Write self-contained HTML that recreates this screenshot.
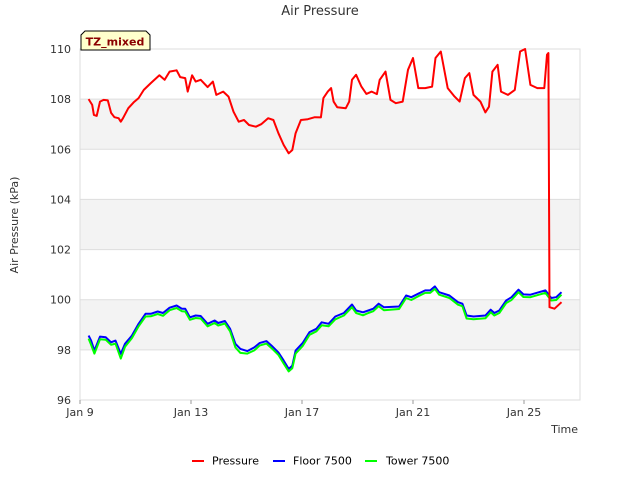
<!DOCTYPE html>
<html><head><meta charset="utf-8"><style>
body{margin:0;background:#fff;}
svg text{font-family:"DejaVu Sans","Liberation Sans",sans-serif;}
</style></head><body>
<svg id="chart" width="640" height="480" viewBox="0 0 640 480" xmlns="http://www.w3.org/2000/svg">
<text x="320" y="15" text-anchor="middle" font-size="13" fill="#333">Air Pressure</text>
<g id="bands"></g>
<g id="grid"></g>
<rect x="80" y="49" width="500" height="351" fill="none" stroke="#ddd"/>
<g id="yticks"></g>
<g id="xticks"></g>
<g id="series"></g>
<text transform="translate(18,225) rotate(-90)" text-anchor="middle" font-size="11" fill="#333">Air Pressure (kPa)</text>
<text x="578" y="433" text-anchor="end" font-size="11" fill="#333">Time</text>
<g>
<path d="M81,50 L81,35 L85,31 L146,31 L150,35 L150,50 Z" fill="#ffffcc" stroke="#000"/>
<text x="115" y="45.5" text-anchor="middle" font-size="11" font-weight="bold" fill="#8b0000">TZ_mixed</text>
</g>
<g>
<g><line x1="192" y1="461" x2="204" y2="461" stroke="#f00" stroke-width="2"/><text x="212" y="464.5" font-size="11" fill="#000">Pressure</text></g>
<g><line x1="273" y1="461" x2="285" y2="461" stroke="#00f" stroke-width="2"/><text x="293" y="464.5" font-size="11" fill="#000">Floor 7500</text></g>
<g><line x1="365" y1="461" x2="377" y2="461" stroke="#0f0" stroke-width="2"/><text x="386" y="464.5" font-size="11" fill="#000">Tower 7500</text></g>
</g>
</svg>
<script>
const yTicks=[96,98,100,102,104,106,108,110];
const xTickDays=[0,4,8,12,16];
const xTickLabels=["Jan 9","Jan 13","Jan 17","Jan 21","Jan 25"];
const pressureDays=[.31,.44,.50,.60,.72,.85,1.00,1.12,1.24,1.39,1.47,1.55,1.74,1.93,2.11,2.30,2.55,2.86,3.05,3.23,3.48,3.61,3.79,3.88,4.04,4.17,4.35,4.60,4.79,4.91,5.16,5.35,5.53,5.72,5.91,6.09,6.34,6.53,6.78,6.97,7.15,7.34,7.52,7.65,7.77,7.96,8.21,8.46,8.68,8.77,8.93,9.05,9.14,9.27,9.58,9.70,9.80,9.95,10.14,10.32,10.51,10.70,10.80,11.01,11.19,11.38,11.63,11.82,12.00,12.19,12.44,12.69,12.81,13.00,13.25,13.50,13.68,13.87,14.03,14.18,14.43,14.61,14.74,14.86,15.05,15.17,15.42,15.67,15.86,16.04,16.23,16.48,16.73,16.83,16.88,16.92,17.10,17.35];
const pressureVals=[108.0,107.77,107.37,107.33,107.9,107.97,107.95,107.45,107.28,107.24,107.1,107.24,107.64,107.87,108.04,108.37,108.64,108.95,108.77,109.1,109.15,108.88,108.84,108.3,108.95,108.7,108.77,108.48,108.7,108.17,108.3,108.1,107.5,107.1,107.17,106.97,106.9,107.0,107.24,107.17,106.64,106.17,105.84,105.97,106.64,107.17,107.2,107.28,107.27,108.04,108.3,108.44,107.9,107.68,107.64,107.9,108.77,108.97,108.5,108.21,108.3,108.2,108.77,109.1,107.97,107.84,107.9,109.17,109.64,108.44,108.44,108.5,109.64,109.9,108.44,108.1,107.9,108.84,109.04,108.17,107.9,107.47,107.7,109.1,109.37,108.3,108.17,108.37,109.9,110.0,108.57,108.44,108.44,109.77,109.84,99.7,99.64,99.9];
const sensorDays=[.31,.40,.52,.72,.93,1.12,1.28,1.47,1.62,1.87,2.11,2.36,2.55,2.80,2.99,3.23,3.48,3.67,3.79,3.96,4.17,4.35,4.60,4.85,4.98,5.22,5.41,5.60,5.78,6.03,6.28,6.47,6.72,6.90,7.15,7.34,7.52,7.65,7.77,8.02,8.27,8.52,8.71,8.96,9.20,9.51,9.80,9.95,10.20,10.39,10.57,10.76,10.95,11.50,11.75,11.94,12.19,12.44,12.62,12.79,12.94,13.31,13.62,13.78,13.93,14.18,14.61,14.80,14.93,15.11,15.36,15.55,15.80,15.98,16.23,16.54,16.77,16.98,17.16,17.35];
const floorVals=[98.57,98.37,97.97,98.53,98.5,98.3,98.37,97.84,98.24,98.57,99.04,99.44,99.44,99.53,99.47,99.68,99.77,99.64,99.64,99.3,99.37,99.35,99.04,99.17,99.07,99.15,98.84,98.24,98.04,97.95,98.1,98.27,98.35,98.17,97.9,97.57,97.24,97.37,97.97,98.27,98.71,98.84,99.1,99.04,99.33,99.47,99.81,99.57,99.5,99.57,99.64,99.84,99.7,99.73,100.17,100.1,100.24,100.37,100.37,100.53,100.3,100.17,99.9,99.84,99.37,99.33,99.37,99.6,99.47,99.57,99.97,100.1,100.4,100.21,100.2,100.3,100.37,100.07,100.1,100.3];
const towerVals=[98.45,98.2,97.85,98.42,98.4,98.2,98.25,97.65,98.12,98.47,98.94,99.33,99.34,99.43,99.36,99.58,99.67,99.54,99.53,99.2,99.27,99.25,98.94,99.07,98.97,99.05,98.74,98.1,97.88,97.85,97.98,98.17,98.25,98.07,97.8,97.45,97.14,97.27,97.85,98.15,98.6,98.74,98.98,98.94,99.22,99.37,99.7,99.47,99.38,99.47,99.54,99.74,99.58,99.63,100.07,99.99,100.14,100.27,100.27,100.43,100.2,100.07,99.8,99.74,99.25,99.22,99.26,99.5,99.37,99.47,99.87,99.99,100.3,100.11,100.1,100.2,100.27,99.97,99.99,100.2];

const NS="http://www.w3.org/2000/svg";
const X0=80,X1=580,Y0=400,Y1=49,YMIN=96,YMAX=110,PXDAY=27.75;
function xs(d){return X0+d*PXDAY;}
function ys(v){return Y0-(v-YMIN)*(Y0-Y1)/(YMAX-YMIN);}
const bands=document.getElementById('bands'),grid=document.getElementById('grid'),yt=document.getElementById('yticks'),xt=document.getElementById('xticks'),ser=document.getElementById('series');
for(let i=0;i<yTicks.length-1;i++){
  if(i%2===1){
    const r=document.createElementNS(NS,'rect');
    
    
    r.setAttribute('x',X0);r.setAttribute('width',X1-X0);
    r.setAttribute('y',ys(yTicks[i+1]));r.setAttribute('height',ys(yTicks[i])-ys(yTicks[i+1]));
    r.setAttribute('fill','#f3f3f3');bands.appendChild(r);
  }
}
yTicks.forEach(v=>{
  const l=document.createElementNS(NS,'line');
  
  
  l.setAttribute('x1',X0);l.setAttribute('x2',X1);l.setAttribute('y1',ys(v));l.setAttribute('y2',ys(v));
  l.setAttribute('stroke','#ddd');grid.appendChild(l);
  const t=document.createElementNS(NS,'text');
  
  
  t.setAttribute('x',71);t.setAttribute('y',ys(v)+4);t.setAttribute('text-anchor','end');
  t.setAttribute('font-size','11');t.setAttribute('fill','#333');t.textContent=v;yt.appendChild(t);
});
xTickDays.forEach((d,i)=>{
  const l=document.createElementNS(NS,'line');
  
  
  l.setAttribute('x1',xs(d));l.setAttribute('x2',xs(d));l.setAttribute('y1',Y0);l.setAttribute('y2',Y0+4);
  l.setAttribute('stroke','#999');xt.appendChild(l);
  const t=document.createElementNS(NS,'text');
  
  
  t.setAttribute('x',xs(d));t.setAttribute('y',416);t.setAttribute('text-anchor','middle');
  t.setAttribute('font-size','11');t.setAttribute('fill','#333');t.textContent=xTickLabels[i];xt.appendChild(t);
});
function line(days,vals,color,name){
  const p=document.createElementNS(NS,'polyline');
  
  
  p.setAttribute('points',days.map((d,i)=>xs(d).toFixed(1)+','+ys(vals[i]).toFixed(1)).join(' '));
  p.setAttribute('fill','none');p.setAttribute('stroke',color);p.setAttribute('stroke-width','2');
  p.setAttribute('stroke-linejoin','round');ser.appendChild(p);
}
line(sensorDays,floorVals,'#00f','floor-7500-line');
line(sensorDays,towerVals,'#0f0','tower-7500-line');
line(pressureDays,pressureVals,'#f00','pressure-line');
</script>
</body></html>
